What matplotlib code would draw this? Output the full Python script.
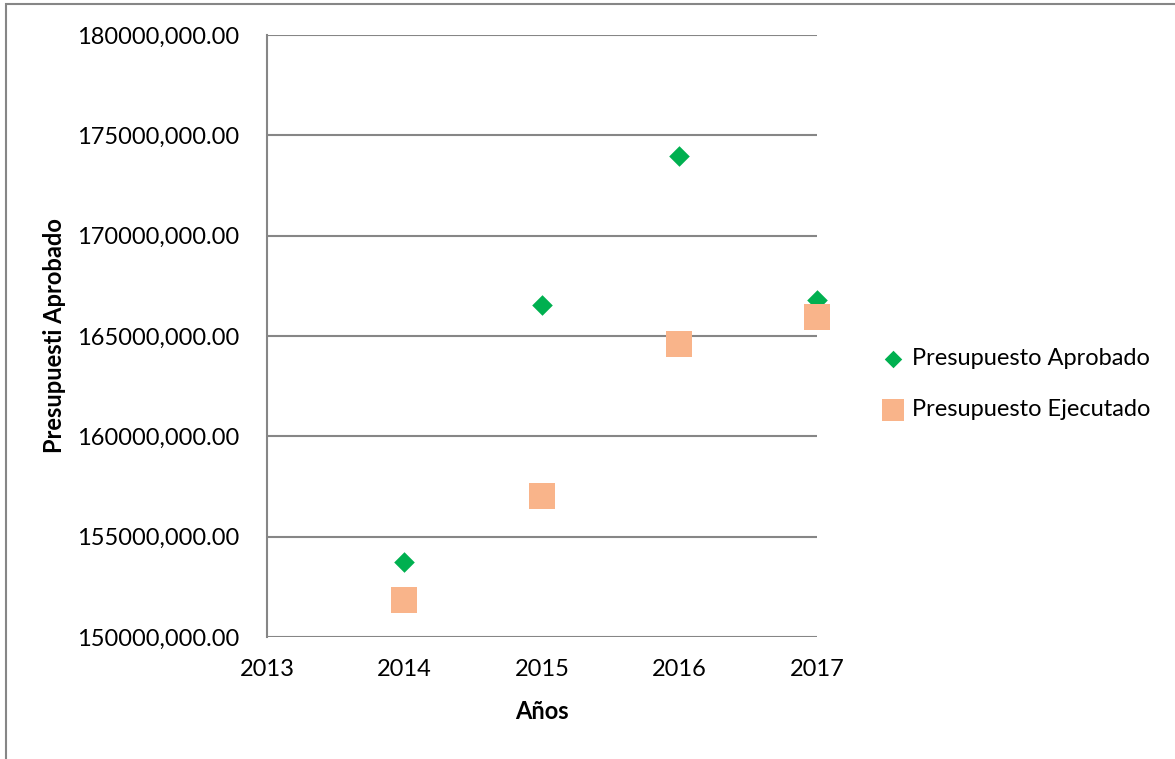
import matplotlib.pyplot as plt
from matplotlib.patches import Rectangle

years = [2014, 2015, 2016, 2017]
aprobado = [153740, 166540, 173970, 166790]
ejecutado = [151840, 157030, 164600, 165950]
y_ticks = [150000, 155000, 160000, 165000, 170000, 175000, 180000]
x_ticks = [2013, 2014, 2015, 2016, 2017]

plt.rcParams['font.family'] = ['Lato', 'DejaVu Sans']

fig = plt.figure(figsize=(11.75, 7.59), dpi=100)
ax = fig.add_axes([0.2272, 0.1607, 0.4681, 0.7932])

ax.scatter(years, aprobado, marker='D', s=110, color='#00B050', linewidths=0,
           label='Presupuesto Aprobado', zorder=3, clip_on=False)
ax.scatter(years, ejecutado, marker='s', s=330, color='#F9B48A', linewidths=0,
           label='Presupuesto Ejecutado', zorder=3, clip_on=False)

ax.set_xlim(2013, 2017)
ax.set_ylim(150000, 180000)
ax.set_xticks(x_ticks)
ax.set_yticks(y_ticks)
ax.set_yticklabels(['%d,000.00' % v for v in y_ticks])
ax.tick_params(length=0, labelsize=17, pad=20)
ax.tick_params(axis='x', pad=16)

ax.grid(axis='y', color='#868686', linewidth=1.5)
for side in ['top', 'right', 'bottom']:
    ax.spines[side].set_visible(False)
ax.spines['left'].set_color('#868686')
ax.spines['left'].set_linewidth(1.5)

ax.set_xlabel('Años', fontsize=17, fontweight='bold', labelpad=14)
ax.set_ylabel('Presupuesti Aprobado', fontsize=17, fontweight='bold', labelpad=8)

fig.legend(loc='center left', bbox_to_anchor=(0.722, 0.494), frameon=False,
           fontsize=17, handletextpad=-0.2, labelspacing=1.25, markerscale=0.85)

# outer chart border
fig.patches.append(Rectangle((0.005, -0.1), 1.2, 1.095, transform=fig.transFigure,
                             fill=False, edgecolor='#868686', linewidth=1.5))

fig.savefig('out.png', dpi=100)
